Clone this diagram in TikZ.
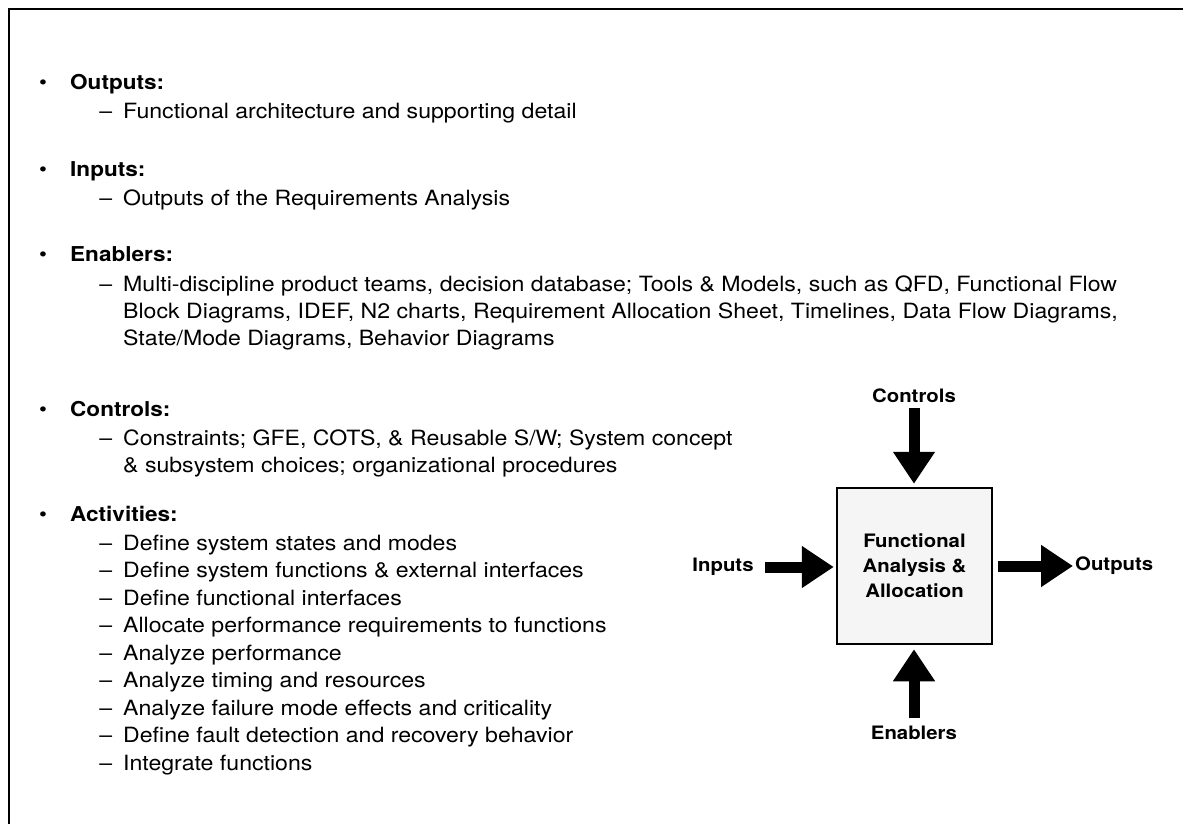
\documentclass[tikz,border=0pt]{standalone}
\usepackage{fontspec}
\setmainfont[FakeStretch=1.1]{TeX Gyre Heros}
\usepackage{tikz}
\usetikzlibrary{positioning, arrows.meta}

\newcommand{\blt}{\makebox[31pt][l]{\mdseries\textbullet}}
\newcommand{\dsh}{\llap{--\hspace{11pt}}}

\begin{document}
\begin{tikzpicture}[
    x=1pt, y=-1pt,
    hdr/.style={anchor=base west, inner sep=0pt, font=\fontsize{20.5}{27}\selectfont\bfseries},
    item/.style={anchor=base west, inner sep=0pt, align=left, font=\fontsize{21}{27}\selectfont},
    lbl/.style={inner sep=0pt, font=\fontsize{18.5}{25}\selectfont\bfseries},
    fatarrow/.style={-{Triangle[length=32pt, width=40pt]}, line width=11pt},
]

% ── Page frame ──
\useasboundingbox (0,0) rectangle (1183,824);
\draw[line width=2.2pt] (9,850) |- (1200,9);

% ══════════════════════════════════════════════
% Bullet list (left side)
% note: base of a multi-line node = its last line
% ══════════════════════════════════════════════
\node[hdr] (outhdr) at (39,90) {\blt Outputs:};
\node[item] (outitem) at (123,119) {\dsh Functional architecture and supporting detail};

\node[hdr] (inhdr) at (39,176) {\blt Inputs:};
\node[item] (initem) at (123,205) {\dsh Outputs of the Requirements Analysis};

\node[hdr] (enhdr) at (39,261) {\blt Enablers:};
\node[item] (enitem) at (123,345) {\dsh Multi-discipline product teams, decision database; Tools \& Models, such as QFD, Functional Flow\\
    Block Diagrams, IDEF, N2 charts, Requirement Allocation Sheet, Timelines, Data Flow Diagrams,\\
    State/Mode Diagrams, Behavior Diagrams};

\node[hdr] (cthdr) at (39,416) {\blt Controls:};
\node[item] (ctitem) at (123,472) {\dsh Constraints; GFE, COTS, \& Reusable S/W; System concept\\
    \& subsystem choices; organizational procedures};

\node[hdr] (achdr) at (39,521) {\blt Activities:};
\node[item, font=\fontsize{21}{27.5}\selectfont] (acitem) at (123,770) {\dsh Define system states and modes\\
    \dsh Define system functions \& external interfaces\\
    \dsh Define functional interfaces\\
    \dsh Allocate performance requirements to functions\\
    \dsh Analyze performance\\
    \dsh Analyze timing and resources\\
    \dsh Analyze failure mode effects and criticality\\
    \dsh Define fault detection and recovery behavior\\
    \dsh Integrate functions};

% ══════════════════════════════════════════════
% Functional analysis block (right side)
% ══════════════════════════════════════════════
\node[rectangle, draw, line width=2.5pt, fill=black!4,
    minimum width=155pt, minimum height=156pt, align=center,
    font=\fontsize{18.5}{25}\selectfont\bfseries]
    (fa) at (914.5,566) {Functional\\Analysis \&\\Allocation};

\node[lbl, anchor=base] (ctlbl) at (914,402) {Controls};
\node[lbl] (inlbl) at (723,567) {Inputs};
\node[lbl, anchor=west] (oulbl) at (1075,566) {Outputs};
\node[lbl, anchor=base] (enlbl) at (914,739) {Enablers};

% ── Arrows into / out of the block ──
\draw[fatarrow, shorten <=6pt, shorten >=3pt] (ctlbl.south) -- (ctlbl.south |- fa.north);
\draw[fatarrow, shorten <=11pt, shorten >=2pt] (inlbl.east) -- (inlbl.east -| fa.west);
\draw[fatarrow, shorten <=5pt, shorten >=2pt] (fa.east |- oulbl.west) -- (oulbl.west);
\draw[fatarrow, shorten <=7pt, shorten >=4pt] (enlbl.north) -- (enlbl.north |- fa.south);

\end{tikzpicture}
\end{document}
